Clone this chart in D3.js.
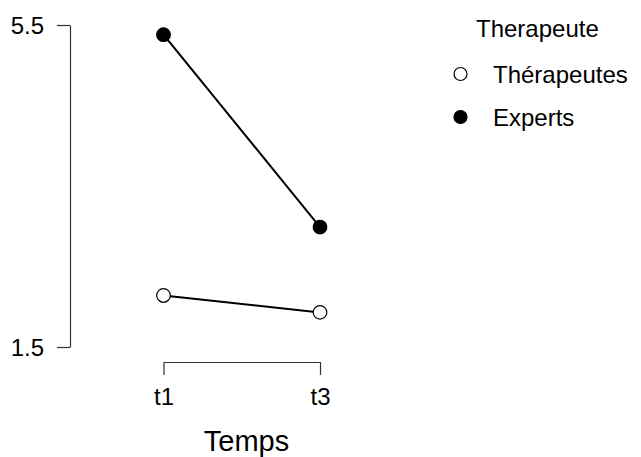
<!DOCTYPE html>
<html>
<head>
<meta charset="utf-8">
<script src="https://cdn.jsdelivr.net/npm/d3@7"></script>
<style>
  html, body { margin: 0; padding: 0; background: #fff; }
  text { font-family: "Liberation Sans", Arial, sans-serif; fill: #000; }
</style>
</head>
<body>
<script>
// Time points and group means
const times = ["t1", "t3"];
const groups = ["Thérapeutes", "Experts"];
const therapeutes = [2.14, 1.93];
const experts = [5.38, 2.99];
const yTicks = [1.5, 5.5];

const W = 641, H = 457;
const svg = d3.select("body").append("svg")
  .attr("width", W).attr("height", H);

const x = d3.scalePoint().domain(times).range([163.5, 320]);
const y = d3.scaleLinear().domain([1.5, 5.5]).range([347, 25]);

// y axis
const yAxis = svg.append("g").attr("transform", "translate(70,0)")
  .call(d3.axisLeft(y).tickValues(yTicks).tickFormat(d3.format(".1f"))
    .tickSize(13).tickSizeOuter(0).tickPadding(13));
yAxis.select(".domain").attr("stroke", "#333").attr("stroke-width", 1.2);
yAxis.selectAll(".tick line").attr("stroke", "#333").attr("stroke-width", 1.2);
yAxis.selectAll(".tick text").style("font-size", "24px").attr("dy", "0.35em");

// x axis
const xAxis = svg.append("g").attr("transform", "translate(0,362)")
  .call(d3.axisBottom(x).tickSize(13).tickSizeOuter(0).tickPadding(13));
xAxis.select(".domain").attr("stroke", "#333").attr("stroke-width", 1.2);
xAxis.selectAll(".tick line").attr("stroke", "#333").attr("stroke-width", 1.2);
xAxis.selectAll(".tick text").style("font-size", "24px");

svg.append("text").attr("x", 246.5).attr("y", 451)
  .attr("text-anchor", "middle").style("font-size", "29px").text("Temps");

const series = [
  { name: groups[0], values: therapeutes, fill: "#fff" },
  { name: groups[1], values: experts, fill: "#000" }
];

const line = d3.line().x((d, i) => x(times[i])).y(d => y(d));

series.forEach(s => {
  svg.append("path").datum(s.values)
    .attr("d", line).attr("fill", "none")
    .attr("stroke", "#000").attr("stroke-width", 2);
  svg.selectAll(null).data(s.values).enter().append("circle")
    .attr("cx", (d, i) => x(times[i])).attr("cy", d => y(d))
    .attr("r", 6.8).attr("fill", s.fill)
    .attr("stroke", "#000").attr("stroke-width", 1.2);
});

// legend
const leg = svg.append("g");
leg.append("text").attr("x", 476).attr("y", 37)
  .style("font-size", "24px").text("Therapeute");
series.forEach((s, i) => {
  const cy = 74 + i * 43;
  leg.append("circle").attr("cx", 460.5).attr("cy", cy).attr("r", 6.5)
    .attr("fill", s.fill).attr("stroke", "#000").attr("stroke-width", 1.2);
  leg.append("text").attr("x", 493).attr("y", cy).attr("dy", "0.36em")
    .style("font-size", "24px").text(s.name);
});
</script>
</body>
</html>
